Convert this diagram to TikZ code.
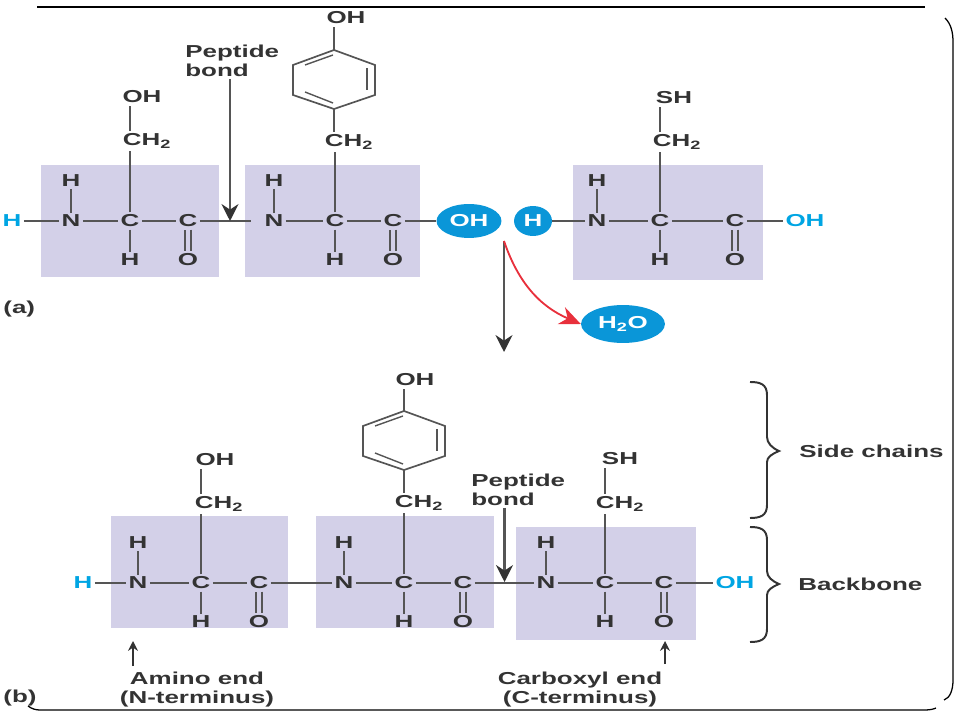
\documentclass[tikz,border=0pt]{standalone}
\usepackage{fontspec}
\setmainfont[FakeStretch=1.5]{Liberation Sans}
\usetikzlibrary{arrows.meta,shapes.geometric}
\definecolor{boxfill}{HTML}{D3D0E8}
\definecolor{inkgray}{HTML}{333333}
\definecolor{bondgray}{HTML}{555555}
\definecolor{endblue}{HTML}{00A5E3}
\definecolor{ballblue}{HTML}{0A96D8}
\definecolor{lossred}{HTML}{E8303C}
\tikzset{
  atom/.style={font=\fontsize{12.3}{14}\selectfont\bfseries, text=inkgray, inner sep=1.5pt},
  endatom/.style={atom, text=endblue},
  ball/.style={ellipse, fill=ballblue, text=white, font=\fontsize{12.3}{14}\selectfont\bfseries, inner sep=0pt},
  bond/.style={draw=bondgray, line width=1.2pt},
  peptidebox/.style={fill=boxfill},
  pointer/.style={draw=bondgray, line width=1.6pt, -{Stealth[length=12pt,width=12pt,color=inkgray]}},
  smallpointer/.style={draw=inkgray, line width=1pt, -{Stealth[length=7pt,width=7pt]}},
  tag/.style={atom, align=center, font=\fontsize{12.3}{13.5}\selectfont\bfseries},
  bracket/.style={draw=inkgray, line width=1.4pt}
}

\begin{document}
\begin{tikzpicture}[x=0.025cm, y=-0.025cm]
\useasboundingbox (0,0) rectangle (960,720);

% Slide frame
\draw[line width=0.9pt] (37,7) -- (925,7);
\draw[line width=0.9pt] (945,18) .. controls (951,24) and (953,32) .. (953,42) -- (953,680) .. controls (953,690) and (950,698) .. (944,700);
\draw[line width=0.9pt] (28,706) .. controls (32,709) and (36,710) .. (40,710) -- (925,710) .. controls (930,710) and (934,709) .. (936,708);

% Shaded residues
\foreach \xa/\ya/\xb/\yb in {41/165/219/277, 245/165/420/277, 573/165/763/280, 111/516/288/628, 316/516/494/628, 516/527/696/640} {
    \fill[peptidebox] (\xa,\ya) rectangle (\xb,\yb);
}

% Backbone atoms of every residue
\foreach \r/\xn/\xa/\xc/\yy in {a1/71/130/188/221, a2/274/335/393/221, a3/597/660/735/221, b1/138/201/259/583, b2/344/404/463/583, b3/546/605/664/583} {
    \node[atom] (N\r) at (\xn,\yy) {N};
    \node[atom] (Ca\r) at (\xa,\yy) {C};
    \node[atom] (Cc\r) at (\xc,\yy) {C};
    \node[atom] (Hn\r) at (\xn,\yy-40) {H};
    \node[atom] (Ha\r) at (\xa,\yy+39) {H};
    \node[atom] (O\r) at (\xc,\yy+39) {O};
    \draw[bond] (N\r) -- (Ca\r);
    \draw[bond] (Ca\r) -- (Cc\r);
    \draw[bond] (N\r) -- (Hn\r);
    \draw[bond] (Ca\r) -- (Ha\r);
    \draw[bond, double=boxfill, double distance=3.2pt, line width=1pt] (Cc\r) -- (O\r);
}

% CH2 of every side chain
\foreach \r/\xch/\ych in {a1/147/141, a2/349/142, a3/677/142, b1/219/504, b2/419/503, b3/620/504} {
    \node[atom] (CH\r) at (\xch,\ych) {CH\textsubscript{2}};
    \draw[bond] (Ca\r) -- (Ca\r |- CH\r.south);
}

% OH and SH at the chain ends
\foreach \r/\xt/\yt/\txt in {a1/142/97/OH, a3/674/98/SH, b1/215/460/OH, b3/620/459/SH} {
    \node[atom] (top\r) at (\xt,\yt) {\txt};
    \draw[bond] (Ca\r |- CH\r.north) -- (Ca\r |- top\r.south);
}

% Tyrosine rings
\foreach \r/\cx/\cy/\xt/\yt in {a2/334/80/346/18, b2/404/441/415/380} {
    \coordinate (ringtop\r) at (\cx,\cy-30);
    \coordinate (ringbot\r) at (\cx,\cy+29);
    \node[atom] (top\r) at (\xt,\yt) {OH};
    \draw[bond] (ringtop\r) -- (\cx+41,\cy-15) -- (\cx+41,\cy+15) -- (ringbot\r) -- (\cx-41,\cy+15) -- (\cx-41,\cy-15) -- cycle;
    \draw[bond, line width=1pt] (\cx-29,\cy-15) -- (\cx-1,\cy-25);
    \draw[bond, line width=1pt] (\cx+33,\cy-12) -- (\cx+33,\cy+10);
    \draw[bond, line width=1pt] (\cx-29,\cy+12) -- (\cx-1,\cy+23);
    \draw[bond] (ringtop\r) -- (ringtop\r |- top\r.south);
    \draw[bond] (ringbot\r) -- (ringbot\r |- CH\r.north);
}

% Ends of the chains
\node[endatom] (Hfirst) at (12,221) {H};
\node[ball, minimum width=65pt*0.71, minimum height=34pt*0.71] (OHball) at (469,221) {OH};
\node[ball, minimum width=38pt*0.71, minimum height=30pt*0.71] (Hball) at (533,221) {H};
\node[endatom] (OHlast) at (805,221) {OH};
\node[ball, minimum width=84pt*0.71, minimum height=38pt*0.71] (water) at (623,324) {H\textsubscript{2}O};
\node[endatom] (Hstart) at (83,583) {H};
\node[endatom] (OHend) at (735,583) {OH};

\draw[bond] (Hfirst) -- (Na1);
\draw[bond, shorten >=8pt] (Cca1) -- (Na2);
\draw[bond] (Cca2) -- (OHball);
\draw[bond] (Hball) -- (Na3);
\draw[bond] (Cca3) -- (OHlast);
\draw[bond] (Hstart) -- (Nb1);
\draw[bond] (Ccb1) -- (Nb2);
\draw[bond] (Ccb2) -- (Nb3);
\draw[bond] (Ccb3) -- (OHend);

% Peptide bond labels and arrows
\node[tag, anchor=north west, align=left] (peptidea) at (183,43) {Peptide\\bond};
\node[tag, anchor=north west, align=left] (peptideb) at (469,471.5) {Peptide\\bond};
\coordinate (bonda) at (230,221);
\coordinate (bondb) at (504.5,582);
\draw[pointer] (bonda |- peptidea.south) -- (bonda);
\draw[pointer] (bondb |- peptideb.south) -- (bondb);

% Reaction arrows
\coordinate (splitpt) at (504,241);
\coordinate (productpt) at (504,352);
\draw[pointer] (splitpt) -- (productpt);
\draw[draw=lossred, line width=1.3pt, -{Stealth[length=15pt,width=13pt,color=lossred]}] (splitpt) to[bend right=24] (water.west);

% End labels
\node[tag] (aminoend) at (197,690) {Amino end\\(N-terminus)};
\node[tag] (carboxylend) at (580,690) {Carboxyl end\\(C-terminus)};
\coordinate (aminotip) at (133,641);
\coordinate (carboxyltip) at (665,641);
\draw[smallpointer] (aminotip |- 0,666) -- (aminotip);
\draw[smallpointer] (carboxyltip |- 0,664) -- (carboxyltip);

% Braces
\foreach \yt/\yu/\ym/\yl/\yb in {382/437/451/462/518, 527/571/584/595/642} {
    \draw[bracket] (750,\yt) .. controls (760,\yt) and (767,\yt+2) .. (767,\yt+13) -- (767,\yu) .. controls (767,\yu+6) and (772,\ym-3) .. (779,\ym) .. controls (772,\ym+3) and (767,\yl-5) .. (767,\yl) -- (767,\yb-13) .. controls (767,\yb-2) and (760,\yb) .. (750,\yb);
}
\node[atom, anchor=west] (sidechains) at (797,451) {Side chains};
\node[atom, anchor=west] (backbone) at (796,584) {Backbone};

\node[atom, anchor=west] (parta) at (1,309) {(a)};
\node[atom, anchor=west] (partb) at (1,698) {(b)};
\end{tikzpicture}
\end{document}
